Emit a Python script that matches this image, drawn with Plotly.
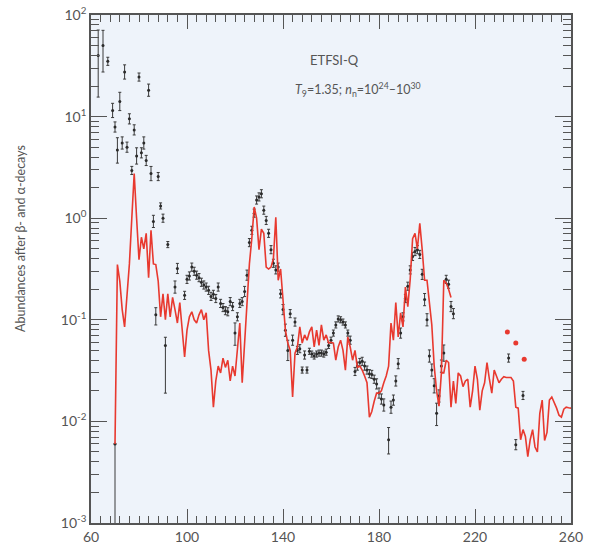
import numpy as np
import plotly.graph_objects as go

# Calculated r-process abundances (ETFSI-Q), A = 70 ... 210
calc_A = list(range(70, 211))
calc_ab = [
    0.006, 0.35, 0.24, 0.126, 0.085, 0.158, 0.355, 1.0, 2.75, 1.0,
    0.39, 0.65, 0.50, 0.71, 0.26, 0.76, 0.355, 0.35, 0.24, 0.107,
    0.18, 0.10, 0.18, 0.107, 0.166, 0.126, 0.093, 0.148, 0.079, 0.043,
    0.079, 0.107, 0.12, 0.10, 0.093, 0.112, 0.126, 0.10, 0.117, 0.05,
    0.032, 0.0138, 0.025, 0.035, 0.030, 0.042, 0.034, 0.04, 0.025, 0.035,
    0.028, 0.05, 0.093, 0.024, 0.056, 0.126, 0.355, 0.63, 1.29, 1.0,
    0.49, 0.78, 0.71, 0.33, 0.316, 0.33, 0.40, 1.02, 0.245, 0.316,
    0.141, 0.079, 0.059, 0.05, 0.0174, 0.047, 0.054, 0.085, 0.059, 0.071,
    0.063, 0.076, 0.085, 0.054, 0.079, 0.056, 0.089, 0.063, 0.071, 0.059,
    0.060, 0.059, 0.04, 0.054, 0.063, 0.05, 0.032, 0.068, 0.054, 0.04,
    0.05, 0.034, 0.035, 0.032, 0.028, 0.024, 0.011, 0.0125, 0.0158, 0.019,
    0.019, 0.020, 0.024, 0.028, 0.035, 0.093, 0.063, 0.148, 0.068, 0.117,
    0.085, 0.21, 0.135, 0.25, 0.63, 0.71, 0.50, 0.89, 0.49, 0.245,
    0.245, 0.158, 0.089, 0.035, 0.020, 0.0141, 0.030, 0.245, 0.23, 0.20, 0.166,
]

# Calculated heavy branch, A = 206 ... 260
heavy_A = list(range(206, 261))
heavy_ab = [
    0.030, 0.030, 0.040, 0.038, 0.0138, 0.025, 0.015, 0.030, 0.028, 0.022,
    0.025, 0.026, 0.0138, 0.020, 0.035, 0.026, 0.0129, 0.020, 0.024, 0.038,
    0.026, 0.019, 0.032, 0.028, 0.024, 0.026, 0.0275, 0.027, 0.027, 0.027,
    0.025, 0.0138, 0.0135, 0.0066, 0.0083, 0.0071, 0.0045, 0.0066, 0.0083, 0.0056,
    0.0050, 0.012, 0.0162, 0.0065, 0.0078, 0.0162, 0.0174, 0.0155, 0.0135, 0.0115,
    0.011, 0.0132, 0.0138, 0.0136, 0.0135,
]

# Calculated actinide points
actinide_A = [233.5, 237, 240.5]
actinide_ab = [0.076, 0.059, 0.041]

# Solar r-process abundances with uncertainties (in dex)
obs_A = [
    63, 65, 67, 69, 70, 71, 72, 73, 74, 75,
    76, 77, 78, 79, 80, 81, 82, 83, 84, 85,
    86, 87, 88, 89, 90, 91, 92, 95, 96, 99,
    100, 101, 102, 103, 104, 105, 106, 107, 108, 109,
    110, 111, 112, 113, 114, 115, 116, 117, 118, 119,
    120, 121, 122, 123, 124, 125, 126, 127, 128, 129,
    130, 131, 132, 133, 134, 135, 136, 137, 138, 139,
    140, 141, 142, 143, 144, 145, 146, 147, 148, 149,
    150, 151, 152, 153, 154, 155, 156, 157, 158, 159,
    160, 161, 162, 163, 164, 165, 166, 167, 168, 170,
    171, 172, 173, 174, 175, 176, 177, 178, 179, 180,
    181, 182, 184, 185, 186, 187, 188, 189, 190, 191,
    192, 193, 194, 195, 196, 197, 198, 199, 200, 201,
    202, 203, 204, 205, 206, 207, 208, 209, 210, 211,
    234, 237, 240, 70,
]
obs_ab = [
    40, 50, 35, 11.5, 7.9, 4.7, 14.1, 5.5, 27.5, 5.0,
    9.5, 2.95, 7.4, 4.1, 24.5, 4.4, 5.5, 3.7, 18.2, 2.75,
    0.93, 0.112, 2.57, 1.32, 1.0, 0.056, 0.55, 0.21, 0.32, 0.174,
    0.25, 0.27, 0.33, 0.30, 0.275, 0.26, 0.234, 0.22, 0.21, 0.195,
    0.17, 0.178, 0.162, 0.21, 0.145, 0.132, 0.123, 0.12, 0.151, 0.135,
    0.074, 0.107, 0.145, 0.151, 0.19, 0.275, 0.575, 0.76, 1.12, 1.51,
    1.62, 1.74, 1.2, 0.95, 0.71, 0.49, 0.36, 0.31, 0.33, 0.18,
    0.126, 0.079, 0.05, 0.115, 0.063, 0.095, 0.05, 0.052, 0.032, 0.045,
    0.032, 0.049, 0.046, 0.044, 0.046, 0.047, 0.047, 0.046, 0.048, 0.056,
    0.063, 0.074, 0.089, 0.102, 0.10, 0.095, 0.089, 0.074, 0.063, 0.031,
    0.035, 0.038, 0.039, 0.035, 0.032, 0.0295, 0.029, 0.026, 0.0234, 0.019,
    0.0166, 0.0145, 0.0066, 0.0138, 0.0162, 0.025, 0.037, 0.074, 0.107, 0.162,
    0.214, 0.31, 0.42, 0.47, 0.49, 0.44, 0.28, 0.158, 0.10, 0.044,
    0.032, 0.0224, 0.012, 0.0178, 0.035, 0.047, 0.25, 0.224, 0.135, 0.115,
    0.042, 0.0059, 0.018, 0.006,
]
obs_err_up = [
    0.25, 0.15, 0.04, 0.07, 0.05, 0.12, 0.09, 0.06, 0.07, 0.05,
    0.05, 0.04, 0.05, 0.08, 0.04, 0.05, 0.06, 0.05, 0.06, 0.07,
    0.06, 0.07, 0.04, 0.03, 0.04, 0.08, 0.03, 0.06, 0.05, 0.04,
    0.04, 0.04, 0.04, 0.04, 0.04, 0.04, 0.04, 0.04, 0.04, 0.04,
    0.04, 0.04, 0.04, 0.04, 0.04, 0.04, 0.04, 0.04, 0.04, 0.04,
    0.10, 0.04, 0.04, 0.04, 0.05, 0.05, 0.04, 0.04, 0.04, 0.04,
    0.04, 0.04, 0.04, 0.04, 0.04, 0.04, 0.04, 0.04, 0.04, 0.04,
    0.05, 0.06, 0.10, 0.04, 0.05, 0.04, 0.04, 0.04, 0.03, 0.04,
    0.03, 0.03, 0.03, 0.03, 0.03, 0.03, 0.03, 0.03, 0.03, 0.03,
    0.03, 0.03, 0.03, 0.03, 0.03, 0.03, 0.03, 0.03, 0.04, 0.04,
    0.04, 0.04, 0.04, 0.04, 0.04, 0.04, 0.04, 0.04, 0.05, 0.05,
    0.05, 0.06, 0.12, 0.06, 0.05, 0.05, 0.05, 0.05, 0.04, 0.04,
    0.04, 0.04, 0.04, 0.04, 0.04, 0.04, 0.05, 0.06, 0.06, 0.06,
    0.06, 0.07, 0.10, 0.06, 0.06, 0.08, 0.04, 0.04, 0.05, 0.05,
    0.04, 0.05, 0.04, 0.0,
]
obs_err_dn = [
    0.41, 0.26, 0.04, 0.07, 0.05, 0.13, 0.09, 0.06, 0.07, 0.05,
    0.05, 0.04, 0.05, 0.08, 0.04, 0.05, 0.06, 0.05, 0.06, 0.07,
    0.06, 0.10, 0.04, 0.03, 0.04, 0.47, 0.03, 0.06, 0.05, 0.04,
    0.04, 0.04, 0.04, 0.04, 0.04, 0.04, 0.04, 0.04, 0.04, 0.04,
    0.04, 0.04, 0.04, 0.04, 0.04, 0.04, 0.04, 0.04, 0.04, 0.04,
    0.12, 0.04, 0.04, 0.04, 0.05, 0.05, 0.04, 0.04, 0.04, 0.04,
    0.04, 0.04, 0.04, 0.04, 0.04, 0.04, 0.04, 0.04, 0.04, 0.04,
    0.05, 0.06, 0.10, 0.04, 0.05, 0.04, 0.04, 0.04, 0.03, 0.04,
    0.03, 0.03, 0.03, 0.03, 0.03, 0.03, 0.03, 0.03, 0.03, 0.03,
    0.03, 0.03, 0.03, 0.03, 0.03, 0.03, 0.03, 0.03, 0.04, 0.04,
    0.04, 0.04, 0.04, 0.04, 0.04, 0.04, 0.04, 0.04, 0.05, 0.05,
    0.05, 0.06, 0.14, 0.06, 0.05, 0.05, 0.05, 0.05, 0.04, 0.04,
    0.04, 0.04, 0.04, 0.04, 0.04, 0.04, 0.05, 0.06, 0.06, 0.06,
    0.06, 0.07, 0.12, 0.06, 0.06, 0.08, 0.04, 0.04, 0.05, 0.05,
    0.04, 0.05, 0.04, 2.0,
]

# Decade labels shown as powers of ten
decade_labels = {
    "0.001": "10<sup>-3</sup>", "0.01": "10<sup>-2</sup>", "0.1": "10<sup>-1</sup>",
    "1": "10<sup>0</sup>", "10": "10<sup>1</sup>", "100": "10<sup>2</sup>",
}

# Asymmetric error bars in linear units (plain lists for the page)
ab = np.array(obs_ab, dtype=float)
err_plus = (ab * (10 ** np.array(obs_err_up) - 1)).tolist()
err_minus = (ab * (1 - 10 ** (-np.array(obs_err_dn)))).tolist()

RED = "#e8392f"
AXIS = "#555"
FONT = "Lato"

fig = go.Figure()

fig.add_trace(go.Scatter(
    x=obs_A, y=obs_ab, mode="markers",
    marker=dict(size=3, color="#2a2a2a"),
    error_y=dict(type="data", symmetric=False, array=err_plus,
                 arrayminus=err_minus, color="#3a3a3a", thickness=1, width=1.5),
    showlegend=False,
))
fig.add_trace(go.Scatter(
    x=calc_A, y=calc_ab, mode="lines",
    line=dict(color=RED, width=1.6), showlegend=False,
))
fig.add_trace(go.Scatter(
    x=heavy_A, y=heavy_ab, mode="lines",
    line=dict(color=RED, width=1.6), showlegend=False,
))
fig.add_trace(go.Scatter(
    x=actinide_A, y=actinide_ab, mode="markers",
    marker=dict(size=5, color=RED), showlegend=False,
))

fig.add_annotation(text="ETFSI-Q", xref="paper", yref="paper",
                   x=0.508, y=0.911, xanchor="center", yanchor="middle",
                   showarrow=False, font=dict(family=FONT, size=13, color=AXIS))
fig.add_annotation(text="<i>T</i><sub>9</sub>=1.35; <i>n</i><sub>n</sub>=10<sup>24</sup>–10<sup>30</sup>",
                   xref="paper", yref="paper", x=0.421, y=0.854,
                   xanchor="left", yanchor="middle", showarrow=False,
                   font=dict(family=FONT, size=12.5, color=AXIS))
fig.add_annotation(text="Abundances after β- and α-decays",
                   xref="paper", yref="paper", x=-0.148, y=0.561,
                   xanchor="center", yanchor="middle", textangle=-90,
                   showarrow=False, font=dict(family=FONT, size=12.5, color=AXIS))

fig.update_xaxes(
    range=[60, 260], tickmode="linear", tick0=60, dtick=40,
    ticks="inside", ticklen=14, tickcolor=AXIS, tickwidth=1.3,
    showline=True, linecolor=AXIS, linewidth=1.5, mirror="allticks",
    showgrid=False, zeroline=False, automargin=False,
    minor=dict(tick0=60, dtick=4, ticks="inside", ticklen=7, tickcolor=AXIS),
    tickfont=dict(family=FONT, size=14, color=AXIS),
)
fig.update_yaxes(
    type="log", range=[-3, 2], tickmode="linear", tick0=0, dtick=1,
    labelalias=decade_labels,
    ticks="inside", ticklen=16, tickcolor=AXIS, tickwidth=1.3,
    showline=True, linecolor=AXIS, linewidth=1.5, mirror="allticks",
    showgrid=False, zeroline=False, automargin=False,
    minor=dict(dtick="D1", ticks="inside", ticklen=8, tickcolor=AXIS),
    tickfont=dict(family=FONT, size=14, color=AXIS),
)

fig.update_layout(
    width=590, height=552,
    margin=dict(l=91, r=19, t=15, b=29, autoexpand=False),
    paper_bgcolor="white", plot_bgcolor="#eef3fa",
)

fig.write_html("out.html")
